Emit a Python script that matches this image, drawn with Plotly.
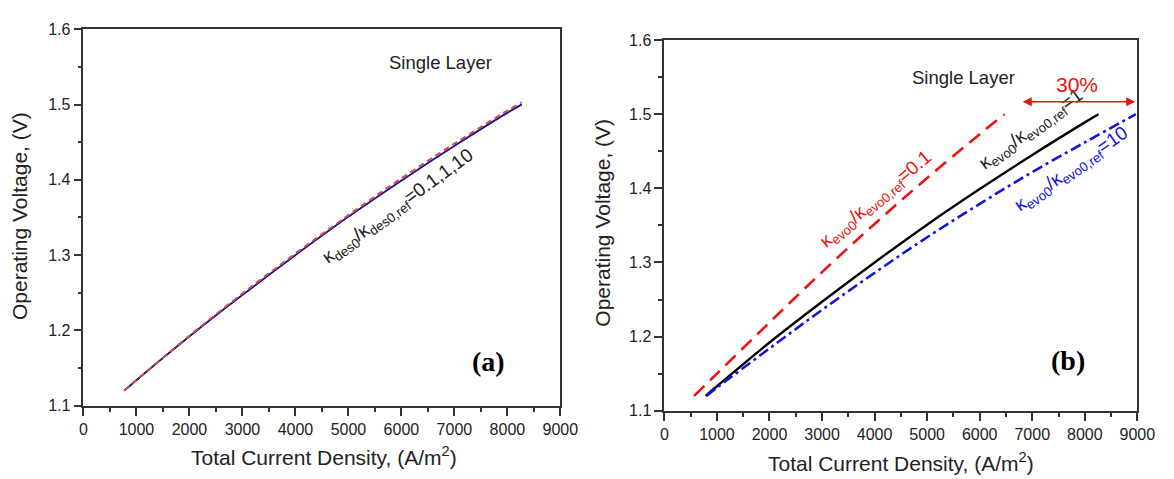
import plotly.graph_objects as go

# ---- data -------------------------------------------------------------
# Panel (a): desorption-rate ratio sweep (curves nearly coincide)
cd_a = [770, 1000, 2000, 3000, 4000, 5000, 6000, 7000, 8000, 8270]
v_a_ref = [1.120, 1.134, 1.192, 1.247, 1.300, 1.351, 1.399, 1.445, 1.489, 1.500]
v_a_low = [1.120, 1.134, 1.193, 1.249, 1.302, 1.353, 1.402, 1.448, 1.492, 1.503]
v_a_high = [1.120, 1.134, 1.192, 1.247, 1.300, 1.351, 1.399, 1.445, 1.489, 1.500]

# Panel (b): evolution-rate ratio sweep
cd_b_01 = [566, 1000, 2000, 3000, 4000, 5000, 6000, 6474]
v_b_01 = [1.120, 1.150, 1.219, 1.287, 1.352, 1.414, 1.473, 1.500]
cd_b_1 = [784, 1000, 2000, 3000, 4000, 5000, 6000, 7000, 8000, 8260]
v_b_1 = [1.120, 1.133, 1.192, 1.247, 1.300, 1.351, 1.399, 1.445, 1.489, 1.500]
cd_b_10 = [800, 1000, 2000, 3000, 4000, 5000, 6000, 7000, 8000, 8970]
v_b_10 = [1.120, 1.131, 1.184, 1.236, 1.286, 1.334, 1.379, 1.422, 1.462, 1.500]

x_ticks = [0, 1000, 2000, 3000, 4000, 5000, 6000, 7000, 8000, 9000]
y_ticks = [1.1, 1.2, 1.3, 1.4, 1.5, 1.6]

# ---- layout helpers -----------------------------------------------------
W, H = 1174, 479
FONT = "Liberation Sans, Arial, sans-serif"
TXT = "#222222"


def px(x):
    return x / W


def py(y):
    return 1 - y / H


fig = go.Figure()

# panel (a)
fig.add_trace(go.Scatter(x=cd_a, y=v_a_ref, xaxis="x", yaxis="y", mode="lines",
                         line=dict(color="black", width=1.6), line_shape="spline"))
fig.add_trace(go.Scatter(x=cd_a, y=v_a_high, xaxis="x", yaxis="y", mode="lines",
                         line=dict(color="#1c1ca8", width=1.6), line_shape="spline"))
fig.add_trace(go.Scatter(x=cd_a, y=v_a_low, xaxis="x", yaxis="y", mode="lines",
                         line=dict(color="#e04848", width=2, dash="6px,4px"), line_shape="spline"))

# panel (b)
fig.add_trace(go.Scatter(x=cd_b_01, y=v_b_01, xaxis="x2", yaxis="y2", mode="lines",
                         line=dict(color="#ee1111", width=2.6, dash="14px,8px"), line_shape="spline"))
fig.add_trace(go.Scatter(x=cd_b_1, y=v_b_1, xaxis="x2", yaxis="y2", mode="lines",
                         line=dict(color="black", width=2.4), line_shape="spline"))
fig.add_trace(go.Scatter(x=cd_b_10, y=v_b_10, xaxis="x2", yaxis="y2", mode="lines",
                         line=dict(color="#1515dd", width=2.6, dash="11px,4px,3px,4px"), line_shape="spline"))

axis_common = dict(
    showline=True, linecolor="#333333", linewidth=1.8, mirror=True,
    ticks="outside", ticklen=8, tickwidth=1.5, tickcolor="#333333",
    showgrid=False, zeroline=False,
    tickfont=dict(family=FONT, size=16, color=TXT),
)
xaxis_common = dict(axis_common, range=[0, 9000], tickvals=x_ticks,
                    minor=dict(ticks="outside", ticklen=4, tickwidth=1.5,
                               tickcolor="#333333", dtick=500, showgrid=False))
yaxis_common = dict(axis_common, range=[1.1, 1.6], tickvals=y_ticks, tickformat=".1f",
                    minor=dict(ticks="outside", ticklen=4, tickwidth=1.5,
                               tickcolor="#333333", dtick=0.05, showgrid=False))

fig.update_layout(
    width=W, height=H,
    margin=dict(l=0, r=0, t=0, b=0),
    paper_bgcolor="white", plot_bgcolor="white",
    showlegend=False,
    font=dict(family=FONT, color=TXT),
    xaxis=dict(xaxis_common, domain=[px(81), px(567)], anchor="y"),
    yaxis=dict(yaxis_common, domain=[py(412.3), py(22)], anchor="x"),
    xaxis2=dict(xaxis_common, domain=[px(673), px(1155)], anchor="y2"),
    yaxis2=dict(yaxis_common, domain=[py(417.5), py(33.3)], anchor="x2"),
)

K = "\u03ba"
ann = []


def paper_text(text, x, y, size, angle=0):
    return dict(text=text, x=px(x), y=py(y), xref="paper", yref="paper",
                xanchor="center", yanchor="middle", showarrow=False,
                textangle=angle, font=dict(size=size))


def data_text(text, x, y, ax, size, color=TXT, angle=0, family=FONT):
    return dict(text=text, x=x, y=y, xref="x" + ax, yref="y" + ax,
                xanchor="center", yanchor="middle", showarrow=False,
                textangle=angle, font=dict(size=size, color=color, family=family))


# axis titles
ann.append(paper_text("Total Current Density, (A/m<sup>2</sup>)", 326, 465, 21))
ann.append(paper_text("Total Current Density, (A/m<sup>2</sup>)", 914, 471, 21))
ann.append(paper_text("Operating Voltage, (V)", 16, 216, 21, -90))
ann.append(paper_text("Operating Voltage, (V)", 609, 223, 21, -90))

SERIF = "Liberation Serif, Times New Roman, serif"

# panel (a) text
ann.append(data_text("Single Layer", 6741, 1.5555, "", 18.5))
ann.append(data_text("<b>(a)</b>", 7648, 1.158, "", 28, color="black", family=SERIF))
ann.append(data_text(f"{K}<sub>des0</sub>/{K}<sub>des0,ref</sub>=0.1,1,10", 5939, 1.3636, "",
                     19, angle=-36))

# panel (b) text
ann.append(data_text("Single Layer", 5690, 1.550, "2", 18.5))
ann.append(data_text("<b>(b)</b>", 7687, 1.168, "2", 28, color="black", family=SERIF))
ann.append(data_text(f"{K}<sub>evo0</sub>/{K}<sub>evo0,ref</sub>=0.1", 4030, 1.384, "2",
                     19, color="#ee1111", angle=-40))
ann.append(data_text(f"{K}<sub>evo0</sub>/{K}<sub>evo0,ref</sub>=1", 6980, 1.479, "2",
                     19, angle=-36))
ann.append(data_text(f"{K}<sub>evo0</sub>/{K}<sub>evo0,ref</sub>=10", 7743, 1.425, "2",
                     19, color="#1515dd", angle=-35))
ann.append(data_text("30%", 7854, 1.5405, "2", 21, color="#ee1111"))
# double-headed span arrow
ann.append(dict(text="", x=8960, y=1.517, ax=6791, ay=1.517, xref="x2", yref="y2",
                axref="x2", ayref="y2", showarrow=True, arrowhead=2, arrowside="end+start",
                arrowsize=1.2, arrowwidth=1.5, arrowcolor="#ee1111"))

fig.update_layout(annotations=ann)
fig.write_html("out.html")
